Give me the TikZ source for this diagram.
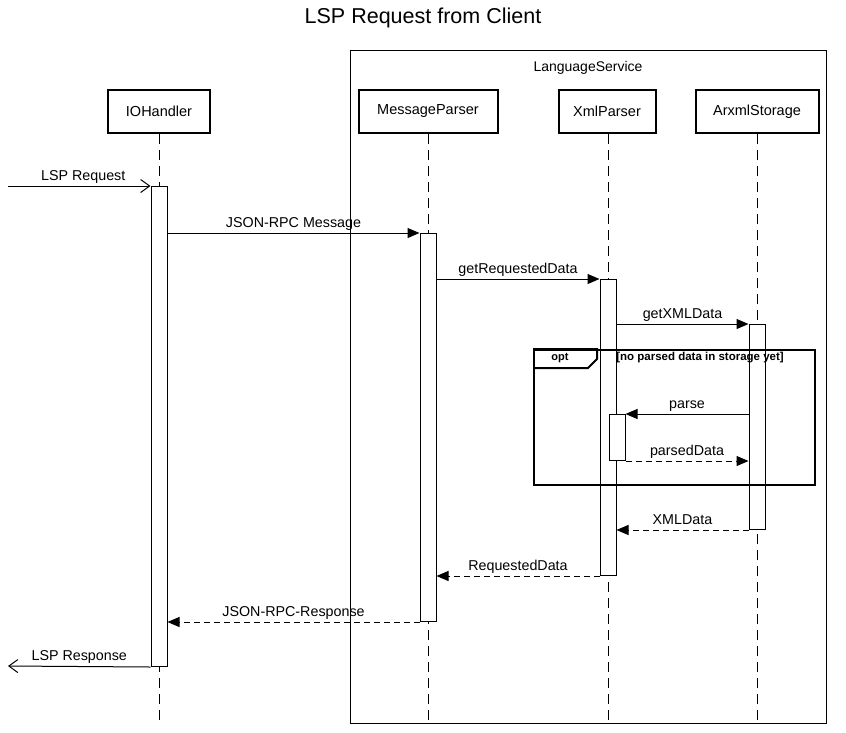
\documentclass[tikz,border=0pt]{standalone}
\usepackage{fontspec}
\setmainfont{Liberation Sans}
\usetikzlibrary{arrows.meta,calc}
\begin{document}
\begin{tikzpicture}[x=1pt,y=-1pt,
  lbl/.style={font=\fontsize{14.3}{16}\selectfont, inner sep=0pt, anchor=base, yshift=6pt},
  part/.style={draw, line width=2pt, minimum height=43pt, font=\fontsize{14.5}{16}\selectfont, inner sep=0pt},
  life/.style={line width=1pt, dash pattern=on 10pt off 6pt},
  act/.style={draw, fill=white, line width=1pt, minimum width=16pt, inner sep=0pt, anchor=north},
  sync/.style={-{Triangle[length=12pt,width=10pt]}, line width=1pt},
  ret/.style={-{Triangle[length=12pt,width=10pt]}, line width=1pt, dash pattern=on 6pt off 4pt},
  openarr/.style={-{Straight Barb[length=9pt,width=13pt]}, line width=1pt}]
\useasboundingbox (0,0) rectangle (846,732);

\node[font=\fontsize{21.5}{25}\selectfont] (title) at (423,18) {LSP Request from Client};

% LanguageService group
\node[draw, line width=1pt, minimum width=476pt, minimum height=673pt, anchor=north west, inner sep=0pt] (ls) at (350,50) {};
\node[font=\fontsize{14}{16}\selectfont] (lslbl) at (588,68) {LanguageService};

% participants
\node[part, minimum width=102pt] (io) at (159,111.5) {\raisebox{-1pt}{IOHandler}};
\node[part, minimum width=139pt] (mp) at (428,111.5) {\raisebox{-1pt}{MessageParser}};
\node[part, minimum width=97pt]  (xp) at (607,111.5) {\raisebox{-1pt}{XmlParser}};
\node[part, minimum width=123pt] (as) at (757,111.5) {\raisebox{-1pt}{ArxmlStorage}};

% lifelines
\coordinate (iob) at (159,722);
\coordinate (mpb) at (428,722);
\coordinate (xpb) at (608,722);
\coordinate (asb) at (757,722);
\draw[life] (io.south -| iob) -- (iob);
\draw[life] (mp.south -| mpb) -- (mpb);
\draw[life] (xp.south -| xpb) -- (xpb);
\draw[life] (as.south -| asb) -- (asb);

% activations
\node[act, minimum height=480pt] (ioA) at (159,186) {};
\node[act, minimum height=388pt] (mpA) at (428,233) {};
\node[act, minimum height=296pt] (xpA) at (608,279) {};
\node[act, minimum height=205pt] (asA) at (757,324) {};
\node[act, minimum height=46pt]  (xpB) at (617,414) {};

% opt fragment
\node[draw, line width=2pt, minimum width=281pt, minimum height=135pt, anchor=north west, inner sep=0pt] (opt) at (533,349) {};
\draw[line width=2pt] (opt.north west) -- ++(64,0) -- ++(0,10) -- ++(-9,9) -- ($(opt.north west)+(0,19)$);
\node[font=\bfseries\fontsize{11}{12}\selectfont] (optlbl) at (560,358) {opt};
\node[font=\bfseries\fontsize{11.5}{13}\selectfont] (cond) at (700,358) {[no parsed data in storage yet]};

% messages
\coordinate (lspin) at (8,186);
\coordinate (lspout) at (8,666);
\draw[openarr] (lspin) -- (ioA.north west) node[lbl, midway, xshift=4pt] {LSP Request};
\draw[sync] (ioA.east |- mpA.north) -- (mpA.north west) node[lbl, midway] {JSON-RPC Message};
\draw[sync] (mpA.east |- xpA.north) -- (xpA.north west) node[lbl, midway] {getRequestedData};
\draw[sync] (xpA.east |- asA.north) -- (asA.north west) node[lbl, midway] {getXMLData};
\draw[sync] (asA.west |- xpB.north) -- (xpB.north east) node[lbl, midway] {parse};
\draw[ret] (xpB.south east) -- (asA.west |- xpB.south) node[lbl, midway] {parsedData};
\draw[ret] (asA.south west) -- (xpA.east |- asA.south) node[lbl, midway] {XMLData};
\draw[ret] (xpA.south west) -- (mpA.east |- xpA.south) node[lbl, midway] {RequestedData};
\draw[ret] (mpA.south west) -- (ioA.east |- mpA.south) node[lbl, midway] {JSON-RPC-Response};
\draw[openarr] (ioA.south west) -- (lspout) node[lbl, midway] {LSP Response};
\end{tikzpicture}
\end{document}
